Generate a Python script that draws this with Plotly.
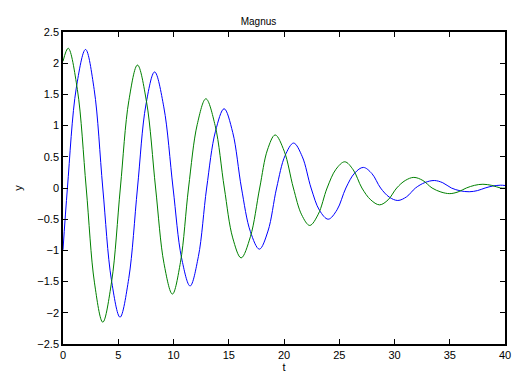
import plotly.graph_objects as go

# Blue series: values (extremes, zero crossings, in-between points)
t_blue = [0, 0.4, 1.2, 2.04, 2.82, 3.6, 4.38, 5.16, 5.95, 6.74, 7.5, 8.29, 9.12,
          9.96, 10.73, 11.5, 12.25, 13.0, 13.8, 14.58, 15.36, 16.15, 16.96,
          17.77, 18.55, 19.33, 20.1, 20.87, 21.66, 22.45, 23.22, 24.0, 24.8,
          25.6, 26.4, 27.18, 27.96, 28.74, 29.52, 30.3, 31.1, 31.9, 32.75,
          33.6, 34.37, 35.15, 35.95, 36.76, 37.5, 38.2, 38.9, 39.6, 40]
y_blue = [-0.99, 0.0, 1.6, 2.22, 1.58, 0.0, -1.47, -2.07, -1.45, 0.0, 1.33, 1.86, 1.30,
          0.0, -1.12, -1.57, -1.10, 0.0, 0.91, 1.27, 0.89, 0.0, -0.70,
          -0.98, -0.69, 0.0, 0.52, 0.72, 0.50, 0.0, -0.36, -0.50, -0.35,
          0.0, 0.24, 0.33, 0.23, 0.0, -0.145, -0.20, -0.14, 0.0, 0.087,
          0.12, 0.084, 0.0, -0.045, -0.06, -0.042, 0.0, 0.032, 0.045, 0.04]

# Green series
t_green = [0, 0.47, 1.3, 2.1, 2.85, 3.6, 4.4, 5.19, 5.96, 6.74, 7.56, 8.38, 9.14,
           9.9, 10.63, 11.36, 12.15, 12.93, 13.77, 14.6, 15.36, 16.12, 16.96,
           17.8, 18.5, 19.2, 20.02, 20.85, 21.6, 22.33, 23.1, 23.9, 24.7,
           25.5, 26.27, 27.05, 27.85, 28.65, 29.42, 30.2, 30.97, 31.75, 32.57,
           33.4, 34.2, 35.0, 35.75, 36.5, 37.25, 38.0, 38.8, 39.6, 40]
y_green = [2.03, 2.24, 1.58, 0.0, -1.52, -2.15, -1.50, 0.0, 1.40, 1.97, 1.38, 0.0, -1.21,
           -1.70, -1.19, 0.0, 1.02, 1.43, 1.0, 0.0, -0.80, -1.12, -0.78,
           0.0, 0.61, 0.85, 0.59, 0.0, -0.43, -0.60, -0.42, 0.0, 0.30,
           0.42, 0.29, 0.0, -0.19, -0.27, -0.19, 0.0, 0.12, 0.17, 0.12,
           0.0, -0.064, -0.09, -0.063, 0.0, 0.043, 0.06, 0.042, 0.0, -0.003]

x_ticks = [0, 5, 10, 15, 20, 25, 30, 35, 40]
y_ticks = [-2.5, -2, -1.5, -1, -0.5, 0, 0.5, 1, 1.5, 2, 2.5]

fig = go.Figure()
fig.add_trace(go.Scatter(x=t_blue, y=y_blue, mode="lines",
                         line=dict(color="rgb(0,0,255)", width=1, shape="spline", smoothing=1.0),
                         showlegend=False))
fig.add_trace(go.Scatter(x=t_green, y=y_green, mode="lines",
                         line=dict(color="rgb(0,128,0)", width=1, shape="spline", smoothing=1.0),
                         showlegend=False))

font = dict(family="Liberation Sans, Arial, sans-serif", size=11, color="black")
fig.update_layout(
    width=517, height=376,
    margin=dict(l=63, r=6, t=32, b=32),
    paper_bgcolor="white", plot_bgcolor="white",
    font=font,
    title=dict(text="Magnus", x=0.5, xanchor="center", y=1 - 21/376, yanchor="middle",
               font=dict(family="Liberation Sans, Arial, sans-serif", size=10, color="black")),
    xaxis=dict(range=[0, 40], tickvals=x_ticks, ticks="inside", ticklen=5, tickcolor="black",
               showline=True, linecolor="black", linewidth=1.5, mirror="allticks",
               showgrid=False, zeroline=False,
               title=dict(text="t", standoff=0, font=dict(size=11)),
               tickfont=dict(size=11)),
    yaxis=dict(range=[-2.5, 2.5], tickvals=y_ticks, ticks="inside", ticklen=5, tickcolor="black",
               showline=True, linecolor="black", linewidth=1.5, mirror="allticks",
               showgrid=False, zeroline=False,
               title=dict(text="y", standoff=12, font=dict(size=11)),
               tickfont=dict(size=11)),
)

fig.write_html("out.html")
